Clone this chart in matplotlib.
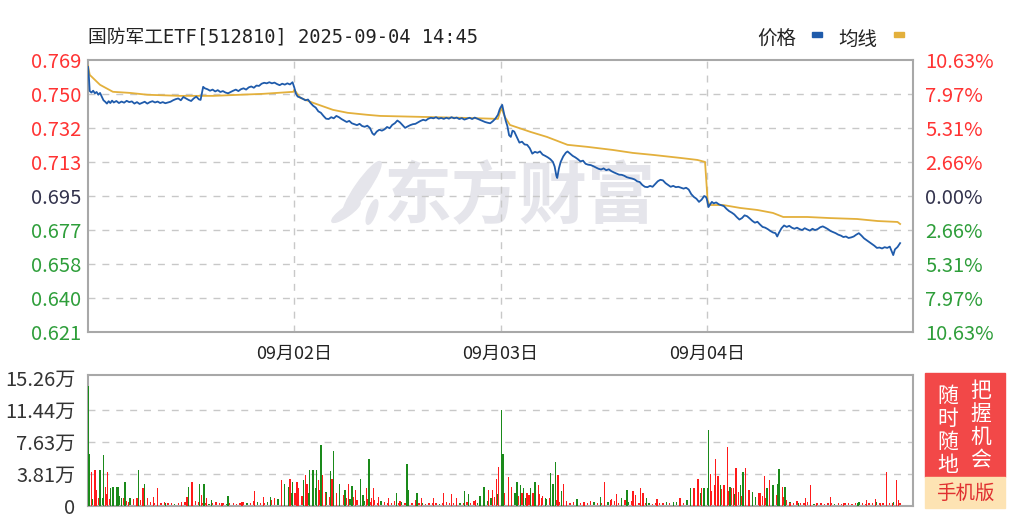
import matplotlib
matplotlib.use("Agg")
import matplotlib.pyplot as plt
import numpy as np
from matplotlib.patches import Rectangle, Ellipse
from matplotlib.transforms import IdentityTransform

# ---------------- data ----------------
title = "国防军工ETF[512810] 2025-09-04 14:45"
pre_close = 0.695
price_ticks = ["0.769", "0.750", "0.732", "0.713", "0.695", "0.677", "0.658", "0.640", "0.621"]
pct_ticks = ["10.63%", "7.97%", "5.31%", "2.66%", "0.00%", "2.66%", "5.31%", "7.97%", "10.63%"]
vol_ticks = ["0", "3.81万", "7.63万", "11.44万", "15.26万"]
vol_tick_vals = [0, 3.81, 7.63, 11.44, 15.26]
day_labels = ["09月02日", "09月03日", "09月04日"]
day_minutes = [240, 480, 720]

# (minute index over four 240-minute sessions, price)
price_day1 = [(0, 0.7652), (1, 0.7600), (2, 0.7520), (4, 0.7512), (6, 0.7522), (8, 0.7508),
              (10, 0.7515), (12, 0.7500), (14, 0.7510), (16, 0.7490), (18, 0.7470), (20, 0.7462),
              (22, 0.7452), (24, 0.7465), (26, 0.7455), (28, 0.7468), (30, 0.7458), (33, 0.7466),
              (36, 0.7455), (39, 0.7463), (42, 0.7457), (45, 0.7467), (48, 0.7460), (51, 0.7464),
              (54, 0.7452), (57, 0.7460), (60, 0.7450), (63, 0.7456), (66, 0.7462), (69, 0.7452),
              (72, 0.7460), (75, 0.7465), (78, 0.7458), (81, 0.7463), (84, 0.7455), (87, 0.7460),
              (90, 0.7454), (93, 0.7458), (96, 0.7462), (99, 0.7470), (102, 0.7476), (105, 0.7480),
              (108, 0.7470), (111, 0.7488), (114, 0.7480), (117, 0.7472), (120, 0.7466),
              (123, 0.7480), (126, 0.7490), (129, 0.7475), (131, 0.7472), (133, 0.7520),
              (134, 0.7543), (136, 0.7535), (139, 0.7530), (142, 0.7522), (145, 0.7528),
              (148, 0.7518), (151, 0.7525), (154, 0.7515), (157, 0.7520), (160, 0.7512),
              (163, 0.7508), (166, 0.7515), (169, 0.7522), (172, 0.7528), (175, 0.7520),
              (178, 0.7530), (181, 0.7535), (184, 0.7528), (187, 0.7540), (190, 0.7545),
              (193, 0.7538), (196, 0.7550), (199, 0.7548), (202, 0.7560), (205, 0.7565),
              (208, 0.7562), (211, 0.7568), (214, 0.7562), (217, 0.7566), (220, 0.7558),
              (223, 0.7552), (226, 0.7560), (229, 0.7555), (232, 0.7562), (235, 0.7556),
              (238, 0.7568)]
price_day2 = [(240, 0.7540), (242, 0.7505), (244, 0.7490), (247, 0.7485), (250, 0.7478),
              (253, 0.7470), (256, 0.7474), (259, 0.7455), (262, 0.7440), (265, 0.7430),
              (268, 0.7410), (271, 0.7402), (274, 0.7385), (277, 0.7370), (280, 0.7368),
              (283, 0.7378), (286, 0.7372), (289, 0.7385), (292, 0.7378), (295, 0.7368),
              (298, 0.7360), (301, 0.7352), (304, 0.7358), (307, 0.7345), (310, 0.7340),
              (313, 0.7335), (316, 0.7342), (319, 0.7330), (322, 0.7326), (325, 0.7332),
              (328, 0.7320), (331, 0.7290), (333, 0.7282), (336, 0.7300), (339, 0.7310),
              (342, 0.7305), (345, 0.7312), (348, 0.7325), (351, 0.7318), (354, 0.7336),
              (357, 0.7345), (360, 0.7360), (363, 0.7350), (366, 0.7335), (369, 0.7320),
              (372, 0.7328), (375, 0.7335), (378, 0.7340), (381, 0.7342), (384, 0.7350),
              (387, 0.7358), (390, 0.7364), (393, 0.7360), (396, 0.7370), (399, 0.7375),
              (402, 0.7372), (405, 0.7378), (408, 0.7370), (411, 0.7374), (414, 0.7369),
              (417, 0.7375), (420, 0.7370), (423, 0.7378), (426, 0.7372), (429, 0.7376),
              (432, 0.7368), (435, 0.7373), (438, 0.7365), (441, 0.7370), (444, 0.7375),
              (447, 0.7368), (450, 0.7376), (453, 0.7370), (456, 0.7364), (459, 0.7358),
              (462, 0.7352), (465, 0.7348), (468, 0.7345), (471, 0.7356), (474, 0.7370),
              (477, 0.7391), (479, 0.7420)]
price_day3 = [(480, 0.7430), (482, 0.7445), (484, 0.7400), (486, 0.7360), (488, 0.7330),
              (490, 0.7280), (492, 0.7271), (494, 0.7305), (496, 0.7300), (499, 0.7270),
              (502, 0.7240), (505, 0.7245), (508, 0.7230), (511, 0.7228), (514, 0.7210),
              (517, 0.7180), (520, 0.7190), (523, 0.7185), (526, 0.7192), (529, 0.7175),
              (532, 0.7168), (535, 0.7160), (538, 0.7150), (541, 0.7135), (543, 0.7110),
              (545, 0.7060), (546, 0.7048), (548, 0.7100), (550, 0.7135), (553, 0.7165),
              (556, 0.7185), (558, 0.7192), (561, 0.7180), (564, 0.7168), (567, 0.7160),
              (570, 0.7150), (573, 0.7138), (576, 0.7142), (579, 0.7125), (582, 0.7120),
              (585, 0.7118), (588, 0.7112), (591, 0.7105), (594, 0.7098), (597, 0.7094),
              (600, 0.7100), (603, 0.7090), (606, 0.7095), (609, 0.7085), (612, 0.7078),
              (615, 0.7072), (618, 0.7066), (621, 0.7065), (624, 0.7060), (627, 0.7052),
              (630, 0.7048), (633, 0.7045), (636, 0.7040), (639, 0.7030), (642, 0.7026),
              (645, 0.7010), (648, 0.7000), (651, 0.6998), (654, 0.7005), (657, 0.7000),
              (660, 0.7015), (663, 0.7030), (666, 0.7038), (669, 0.7035), (672, 0.7020),
              (675, 0.7010), (678, 0.7000), (681, 0.7005), (684, 0.6998), (687, 0.7000),
              (690, 0.6995), (693, 0.6990), (696, 0.6995), (699, 0.6985), (702, 0.6960),
              (705, 0.6945), (708, 0.6935), (711, 0.6918), (714, 0.6930), (717, 0.6950),
              (719, 0.6945)]
price_day4 = [(720, 0.6935), (722, 0.6890), (724, 0.6905), (726, 0.6918), (728, 0.6910),
              (731, 0.6915), (734, 0.6905), (737, 0.6900), (740, 0.6895), (743, 0.6880),
              (746, 0.6868), (749, 0.6860), (752, 0.6850), (755, 0.6835), (758, 0.6822),
              (761, 0.6830), (764, 0.6845), (767, 0.6840), (770, 0.6828), (773, 0.6815),
              (776, 0.6805), (779, 0.6810), (782, 0.6795), (785, 0.6782), (788, 0.6778),
              (791, 0.6770), (794, 0.6760), (797, 0.6752), (800, 0.6748), (802, 0.6730),
              (804, 0.6750), (807, 0.6775), (810, 0.6790), (813, 0.6782), (816, 0.6788),
              (819, 0.6778), (822, 0.6772), (825, 0.6778), (828, 0.6770), (831, 0.6765),
              (834, 0.6775), (837, 0.6768), (840, 0.6762), (843, 0.6772), (846, 0.6765),
              (849, 0.6770), (852, 0.6780), (855, 0.6785), (858, 0.6778), (861, 0.6770),
              (864, 0.6760), (867, 0.6754), (870, 0.6748), (873, 0.6740), (876, 0.6735),
              (879, 0.6727), (882, 0.6730), (885, 0.6722), (888, 0.6725), (891, 0.6730),
              (894, 0.6740), (897, 0.6748), (900, 0.6735), (903, 0.6720), (906, 0.6710),
              (909, 0.6700), (912, 0.6690), (915, 0.6680), (918, 0.6668), (921, 0.6670),
              (924, 0.6665), (927, 0.6672), (930, 0.6668), (933, 0.6675), (936, 0.6640),
              (937, 0.6629), (939, 0.6660), (942, 0.6673), (945, 0.6694)]

avg_pts = [(0, 0.7657), (2, 0.7608), (14, 0.7554), (29, 0.7516), (49, 0.7510), (69, 0.7500),
           (107, 0.7494), (146, 0.7494), (177, 0.7500), (204, 0.7505), (239, 0.7516),
           (240, 0.7527), (247, 0.7483), (262, 0.7456), (285, 0.7418), (302, 0.7402),
           (325, 0.7391), (340, 0.7385), (386, 0.7380), (433, 0.7375), (477, 0.7369),
           (481, 0.7429), (485, 0.7380), (491, 0.7336), (515, 0.7298), (534, 0.7271),
           (558, 0.7228), (581, 0.7217), (611, 0.7200), (634, 0.7184), (658, 0.7173),
           (689, 0.7157), (709, 0.7146), (718, 0.7135),
           (721, 0.6928), (723, 0.6901), (739, 0.6901), (759, 0.6885), (779, 0.6874),
           (797, 0.6858), (809, 0.6836), (837, 0.6836), (864, 0.6830), (895, 0.6825),
           (919, 0.6814), (942, 0.6809), (945, 0.6798)]

# volume (万): notable bars (minute, value, up: 1 red / 0 green)
vol_min = [0, 2, 4, 8, 10, 14, 18, 20, 23, 26, 29, 33, 35, 39, 43, 47, 57, 59, 64, 66, 76, 81, 90,
           109, 115, 117, 121, 130, 132, 135, 138, 144, 156, 163, 179, 194, 204, 212, 225, 229,
           233, 235, 238, 243, 245, 251, 253, 255, 258, 262, 266, 268, 271, 273, 276, 282, 284,
           286, 289, 293, 299, 303, 307, 311, 317, 320, 324, 327, 330, 332, 338, 350, 359, 363,
           371, 373, 381, 383, 388, 402, 414, 423, 429, 438, 443, 451, 456, 461, 466, 471, 475,
           478, 481, 483, 489, 493, 499, 503, 507, 511, 515, 518, 520, 524, 528, 532, 538, 541,
           544, 547, 551, 553, 557, 569, 577, 596, 601, 608, 615, 621, 627, 634, 637, 643, 646,
           650, 662, 681, 689, 701, 705, 710, 714, 717, 722, 724, 730, 733, 736, 740, 744, 747,
           751, 754, 759, 762, 765, 769, 773, 782, 787, 790, 793, 797, 802, 804, 808, 811, 817,
           827, 835, 841, 848, 864, 879, 896, 906, 916, 922, 929, 936, 941, 943]
vol_val = [14.29, 6.22, 4.06, 4.25, 1.89, 4.25, 6.02, 2.28, 4.06, 2.09, 2.28, 2.28, 2.28, 0.91,
           2.87, 0.51, 0.91, 4.25, 2.09, 2.68, 1.10, 2.09, 0.31,
           0.51, 1.10, 2.28, 2.87, 2.68, 1.30, 2.68, 0.91, 0.71, 0.31, 1.18, 0.51, 1.81, 1.02,
           1.10, 3.07, 2.68, 2.28, 3.27, 2.87, 2.87, 2.20, 3.07, 3.66, 2.68, 4.33, 4.33, 4.25,
           3.07, 7.32, 3.66, 1.50, 4.17, 3.27, 6.54, 1.50, 2.68, 1.89, 2.68, 2.36, 1.89, 3.27,
           1.30, 2.09, 5.63, 0.91, 2.09, 1.10, 0.91, 1.57, 0.63, 4.96, 1.89, 0.71, 1.50, 0.91,
           0.91, 1.50, 1.42, 0.91, 1.81, 1.42, 0.71, 1.18, 2.28, 1.89, 1.89, 3.27, 4.65, 11.42,
           6.22, 3.46, 2.28, 2.87, 2.48, 2.09, 1.50, 2.09, 1.50, 2.87, 2.48, 0.91, 0.91, 3.94,
           2.68, 5.24, 3.66, 1.81, 2.68, 0.63, 0.79, 0.51, 1.10, 2.87, 0.71, 1.42, 0.91, 1.89,
           1.81, 1.30, 2.09, 1.50, 0.91, 0.79, 0.51, 0.91, 2.09, 2.09, 3.27, 2.09, 2.09, 9.06,
           3.86, 5.63, 3.54, 2.48, 2.48, 7.09, 2.28, 2.09, 4.57, 2.48, 4.06, 4.57, 1.50, 1.69,
           1.50, 3.54, 2.09, 3.15, 2.48, 2.68, 4.37, 2.28, 2.28, 0.39, 0.39, 0.91, 2.48, 0.39,
           1.02, 0.31, 0.39, 0.71, 0.79, 0.39, 4.06, 0.39, 3.15, 0.71]
vol_up = [0, 0, 1, 1, 1, 0, 0, 1, 1, 0, 0, 0, 0, 0, 0, 1, 1, 0, 1, 0, 1, 1, 0,
          1, 1, 0, 1, 0, 1, 0, 1, 0, 1, 0, 1, 1, 1, 0, 1, 0,
          0, 1, 0, 1, 1, 0, 1, 1, 0, 0, 0, 1, 0, 1, 1, 0, 1,
          0, 1, 0, 0, 1, 0, 1, 0, 0, 1, 0, 1, 1, 1, 1, 0, 1,
          0, 0, 1, 0, 1, 1, 1, 1, 1, 0, 0, 1, 0, 0, 1, 1, 1,
          1, 0, 0, 1, 1, 0, 0, 0, 1, 0, 1, 0, 1, 1, 0, 0, 0,
          0, 1, 0, 1, 1, 0, 1, 0, 1, 1, 1, 0, 0, 1, 1, 1, 1,
          0, 1, 0, 1, 0, 1, 1, 1, 0, 0, 1, 1, 1, 0, 1, 1, 0,
          1, 1, 0, 0, 1, 1, 0, 1, 1, 0, 1, 0, 0, 0, 1, 0, 1,
          0, 1, 1, 1, 1, 1, 0, 1, 1, 1, 1, 1, 1, 1]

# background small bars, one every 4 minutes (万), with r/g colour per bar
floor_val = [1.2, 0.8, 1.5, 1.0, 0.9, 1.4, 0.8, 1.1, 0.7, 1.2, 0.9, 0.6, 1.0, 0.8, 0.5, 0.7,
             0.6, 0.9, 0.5, 0.4, 0.6, 0.3, 0.5, 0.4, 0.3, 0.2, 0.4, 0.3, 0.5, 0.3, 0.4, 0.6,
             0.5, 0.3, 0.4, 0.2, 0.3, 0.5, 0.4, 0.3, 0.2, 0.3, 0.4, 0.2, 0.3, 0.5, 0.4, 0.3,
             0.6, 0.5, 0.4, 0.3, 0.5, 0.7, 0.9, 0.8, 1.1, 1.4, 1.2, 1.6,
             1.5, 1.8, 1.2, 2.0, 1.6, 1.4, 2.2, 1.9, 1.3, 1.7, 1.1, 1.5, 1.2, 0.9, 1.3, 1.0,
             0.8, 1.1, 0.7, 0.9, 0.6, 0.8, 0.5, 0.7, 0.4, 0.6, 0.5, 0.3, 0.4, 0.6, 0.3, 0.5,
             0.4, 0.2, 0.3, 0.5, 0.4, 0.3, 0.2, 0.3, 0.4, 0.3, 0.2, 0.3, 0.5, 0.3, 0.4, 0.2,
             0.3, 0.4, 0.5, 0.3, 0.6, 0.4, 0.5, 0.7, 0.6, 0.9, 1.1, 1.4,
             2.0, 1.6, 1.8, 1.3, 1.5, 1.2, 1.6, 1.0, 1.3, 0.9, 1.1, 1.4, 1.2, 0.8, 1.0, 0.6,
             0.7, 0.5, 0.4, 0.6, 0.3, 0.5, 0.4, 0.3, 0.5, 0.4, 0.6, 0.5, 0.3, 0.4, 0.7, 0.5,
             0.8, 0.6, 0.4, 0.9, 0.7, 0.5, 0.6, 0.4, 0.3, 0.5, 0.3, 0.4, 0.2, 0.3, 0.4, 0.3,
             0.5, 0.4, 0.3, 0.5, 0.6, 0.4, 0.7, 0.9, 1.2, 1.0, 1.5, 1.3,
             2.2, 1.8, 2.5, 1.6, 2.0, 1.5, 1.8, 2.1, 1.4, 1.7, 1.2, 1.5, 1.9, 1.3, 1.1, 1.6,
             1.2, 0.9, 1.4, 1.0, 1.3, 0.8, 1.1, 0.7, 0.5, 0.4, 0.6, 0.3, 0.4, 0.5, 0.3, 0.2,
             0.4, 0.3, 0.2, 0.3, 0.4, 0.2, 0.3, 0.2, 0.3, 0.4, 0.2, 0.3, 0.5, 0.3, 0.2, 0.4,
             0.3, 0.5, 0.4, 0.3, 0.6, 0.4, 0.5, 0.3, 0.4]
floor_col = ("rgrrgrrgrgrrgrrrgrrrgrrrrgrrrrgrrrrgrrrrgrrrrrgrrgrrgrrgrg"
             "rgrgrrgrgrrgrrgrrrgrrrgrrrrgrrrrrgrrrrrgrrrrgrrrrrgrrrrgrrg"
             "grgrrgrgrrgrgrrrgrrrrgrrrrrgrrgrrrgrrrrrgrrrrrgrrrrgrrgrrgr"
             "grgrgrrgrgrrgrrgrrgrrrgrrrrrgrrrrrrgrrrrrgrrrrrrgrrrrgrrr")

# ---------------- style ----------------
W, H = 1024, 532
RED = "#ff3333"
GREEN = "#2e9e3a"
NEUTRAL = "#33334d"
BLUE = "#1f5bab"
GOLD = "#e3b03c"
GRID = "#c8c8c8"
BORDER = "#a8a8a8"
CJK = ["Noto Sans CJK SC", "DejaVu Sans"]
MONO = ["DejaVu Sans Mono", "Noto Sans CJK SC"]

plt.rcParams["font.family"] = CJK

fig = plt.figure(figsize=(W / 100, H / 100), dpi=100)
fig.patch.set_facecolor("white")


def fx(px):
    return px / W


def fy(py):
    return 1 - py / H


# price panel
ax = fig.add_axes([fx(88), fy(332), fx(913) - fx(88), fy(60) - fy(332)])
ymin, ymax = pre_close * (1 - 0.1063), pre_close * (1 + 0.1063)
ax.set_xlim(0, 960)
ax.set_ylim(ymin, ymax)
yt = np.linspace(ymax, ymin, 9)
ax.set_yticks(yt)
ax.set_yticklabels(price_ticks)
ax.set_xticks(day_minutes)
ax.set_xticklabels(day_labels, family=CJK, fontsize=13, color="#222222")
ax.tick_params(axis="x", length=0, pad=9)
ax.tick_params(axis="y", length=0, pad=5, labelsize=14.5)
for i, lab in enumerate(ax.get_yticklabels()):
    lab.set_color(RED if i < 4 else (NEUTRAL if i == 4 else GREEN))
for v in yt[1:-1]:
    ax.axhline(v, color=GRID, lw=1, ls=(0, (5, 5)), zorder=1)
for m in day_minutes:
    ax.axvline(m, color=GRID, lw=1, ls=(0, (5, 5)), zorder=1)
for s in ax.spines.values():
    s.set_color(BORDER)
    s.set_linewidth(1.5)

# watermark (logo + brand text)
WM = "#e5e5eb"
ax.text(0.522, 0.49, "东方财富", transform=ax.transAxes, fontsize=49, fontweight="bold",
        color=WM, ha="center", va="center", zorder=0)
for (cx, cy, ew, eh, ang) in [(362, 188, 13, 64, -35), (346, 212, 9, 34, -55),
                              (372, 212, 8, 26, -20)]:
    fig.patches.append(Ellipse((cx, H - cy), ew, eh, angle=ang, transform=IdentityTransform(),
                               color=WM, zorder=0))

price_pts = price_day1 + price_day2 + price_day3 + price_day4
ax.plot([p[0] for p in avg_pts], [p[1] for p in avg_pts], color=GOLD, lw=1.3, zorder=3)
ax.plot([p[0] for p in price_pts], [p[1] for p in price_pts], color=BLUE, lw=1.3, zorder=4)

# right percent axis
ax2 = ax.twinx()
ax2.set_ylim(ymin, ymax)
ax2.set_yticks(yt)
ax2.set_yticklabels(pct_ticks)
ax2.tick_params(axis="y", length=0, pad=9, labelsize=14.5)
for i, lab in enumerate(ax2.get_yticklabels()):
    lab.set_color(RED if i < 4 else (NEUTRAL if i == 4 else GREEN))
for s in ax2.spines.values():
    s.set_visible(False)

# volume panel
axv = fig.add_axes([fx(88), fy(506), fx(913) - fx(88), fy(375) - fy(506)])
axv.set_xlim(0, 960)
axv.set_ylim(0, 15.61)
axv.set_yticks(vol_tick_vals)
axv.set_yticklabels(vol_ticks)
axv.set_xticks([])
axv.tick_params(axis="y", length=0, pad=9, labelsize=14.5, labelcolor="#333333")
for v in vol_tick_vals[1:4]:
    axv.axhline(v, color=GRID, lw=1, ls=(0, (5, 5)), zorder=1)
for s in axv.spines.values():
    s.set_color(BORDER)
    s.set_linewidth(1.5)
floor_min = np.arange(len(floor_val)) * 4 + 1
fcols = ["#ff1a1a" if c == "r" else "#1a8a1a" for c in floor_col[:len(floor_val)]]
axv.bar(floor_min, floor_val, width=1.6, color=fcols, linewidth=0, zorder=2)
colors = ["#ff1a1a" if u else "#1a8a1a" for u in vol_up]
axv.bar(vol_min, vol_val, width=1.6, color=colors, linewidth=0, zorder=3)

# title and legend
fig.text(fx(88), fy(38), title, family=MONO, fontsize=13.5, color="#222222",
         ha="left", va="center")
fig.text(fx(757), fy(39), "价格", fontsize=14, color="#222222", ha="left", va="center")
fig.patches.append(Rectangle((fx(812), fy(37)), fx(10), 5 / H, transform=fig.transFigure,
                             color=BLUE))
fig.text(fx(838), fy(39), "均线", fontsize=14, color="#222222", ha="left", va="center")
fig.patches.append(Rectangle((fx(894), fy(37)), fx(10), 5 / H, transform=fig.transFigure,
                             color=GOLD))

# side badge
fig.patches.append(Rectangle((fx(925), fy(477)), fx(80), 104 / H, transform=fig.transFigure,
                             color="#f24848"))
fig.patches.append(Rectangle((fx(925), fy(508)), fx(80), 31 / H, transform=fig.transFigure,
                             color="#fde3b3"))
for i, ch in enumerate("随时随地"):
    fig.text(fx(948), fy(396 + i * 23), ch, fontsize=15, color="white", ha="center",
             va="center", style="italic")
for i, ch in enumerate("把握机会"):
    fig.text(fx(981), fy(391 + i * 23), ch, fontsize=15, color="white", ha="center",
             va="center", style="italic")
fig.text(fx(965), fy(493), "手机版", fontsize=14, color="#e03030", ha="center", va="center")

fig.savefig("out.png", dpi=100)
